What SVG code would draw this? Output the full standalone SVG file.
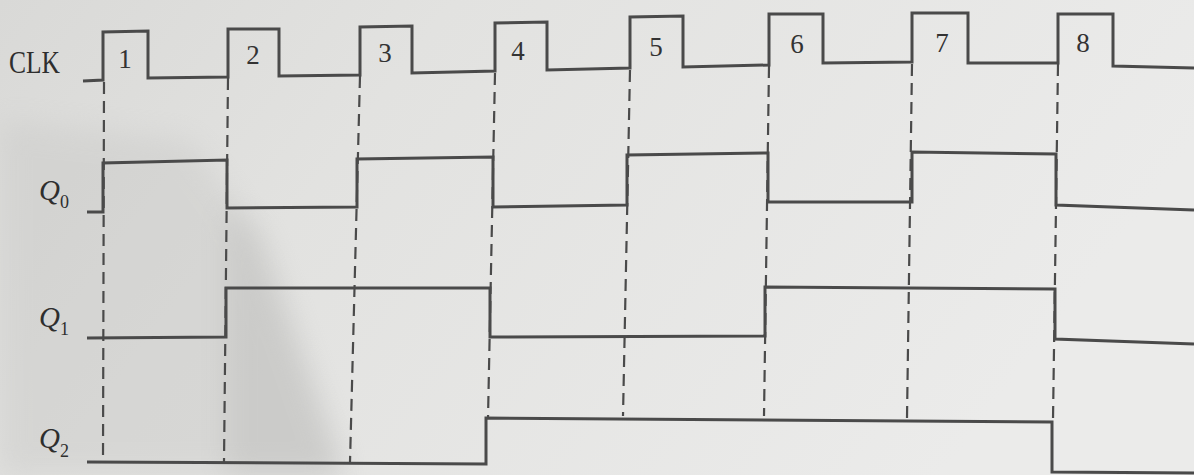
<svg xmlns="http://www.w3.org/2000/svg" width="1194" height="475" viewBox="0 0 1194 475">
<defs>
<linearGradient id="bg" x1="0" y1="0" x2="1" y2="0.3">
<stop offset="0" stop-color="#d9d9d7"/>
<stop offset="0.35" stop-color="#e2e2e0"/>
<stop offset="1" stop-color="#ebebea"/>
</linearGradient>
<filter id="blur" x="-20%" y="-20%" width="140%" height="140%"><feGaussianBlur stdDeviation="14"/></filter>
<style>
.wave{fill:none;stroke:#4a4a4a;stroke-width:3;stroke-linejoin:miter}
.dash{fill:none;stroke:#4a4a4a;stroke-width:2.2;stroke-dasharray:12 7}
.num{font-family:"Liberation Serif",serif;font-size:27px;fill:#333}
.lbl{font-family:"Liberation Serif",serif;font-size:32px;fill:#2e2e2e}
.q{font-family:"Liberation Serif",serif;font-style:italic;font-size:29px;fill:#2e2e2e}
.sub{font-size:18px;font-style:normal}
</style>
</defs>
<rect width="1194" height="475" fill="url(#bg)"/>
<polygon points="0,120 190,140 240,210 340,475 0,475" fill="#c9c9c7" opacity="0.45" filter="url(#blur)"/>
<polygon points="225,205 260,230 345,475 225,475" fill="#bdbdbb" opacity="0.45" filter="url(#blur)"/>

<g id="connectors">
<line class="dash" x1="104" y1="82" x2="103" y2="460"/>
<line class="dash" x1="228" y1="78" x2="224" y2="462"/>
<line class="dash" x1="360" y1="76" x2="350" y2="462"/>
<line class="dash" x1="495" y1="73" x2="488" y2="418"/>
<line class="dash" x1="630" y1="70" x2="623" y2="416"/>
<line class="dash" x1="769" y1="66" x2="764" y2="416"/>
<line class="dash" x1="912" y1="64" x2="907" y2="418"/>
<line class="dash" x1="1058" y1="64" x2="1053" y2="420"/>
</g>

<g id="clk">
<text class="lbl" x="9" y="73" textLength="51" lengthAdjust="spacingAndGlyphs">CLK</text>
<polyline class="wave" points="83,81 103,80 103,32 148,31 148,78 228,77 228,29 279,29 279,76 360,75 360,27 412,26 412,73 495,71 495,23 547,22 547,70 630,68 630,17 683,16 683,67 769,65 769,14 823,14 823,63 912,62 912,13 968,13 968,63 1058,63 1058,14 1113,14 1113,66 1194,68"/>
<text class="num" x="125" y="68" text-anchor="middle">1</text>
<text class="num" x="253" y="64" text-anchor="middle">2</text>
<text class="num" x="385" y="62" text-anchor="middle">3</text>
<text class="num" x="518" y="60" text-anchor="middle">4</text>
<text class="num" x="656" y="56" text-anchor="middle">5</text>
<text class="num" x="797" y="53" text-anchor="middle">6</text>
<text class="num" x="942" y="52" text-anchor="middle">7</text>
<text class="num" x="1083" y="52" text-anchor="middle">8</text>
</g>

<g id="q0">
<text class="q" x="39" y="200">Q<tspan class="sub" dy="8">0</tspan></text>
<polyline class="wave" points="87,212 103,212 103,163 227,160 227,208 357,207 357,159 493,157 493,207 627,205 627,155 768,153 768,202 912,202 912,152 1056,154 1056,205 1194,210"/>
</g>

<g id="q1">
<text class="q" x="39" y="327">Q<tspan class="sub" dy="8">1</tspan></text>
<polyline class="wave" points="87,338 226,337 226,288 490,288 490,337 765,336 765,287 1055,289 1055,339 1194,344"/>
</g>

<g id="q2">
<text class="q" x="39" y="448">Q<tspan class="sub" dy="9">2</tspan></text>
<polyline class="wave" points="87,462 486,464 486,418 1052,422 1052,472 1194,473"/>
</g>
</svg>
